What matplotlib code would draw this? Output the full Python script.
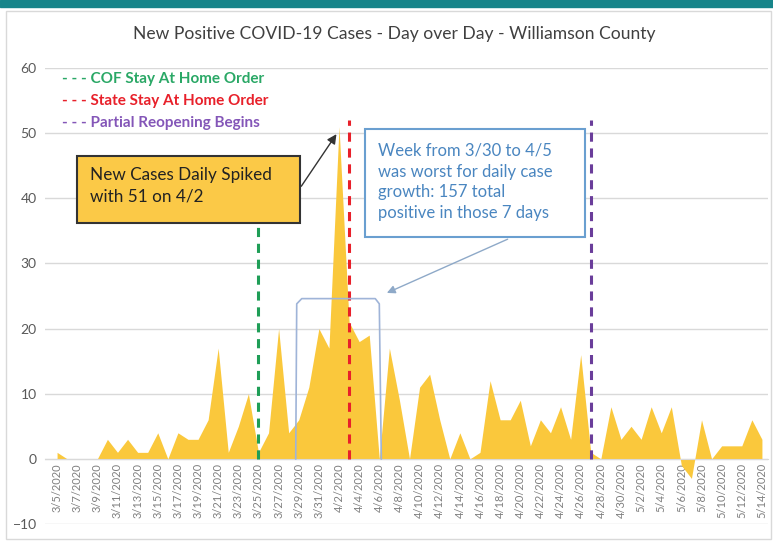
import pandas as pd
import matplotlib.pyplot as plt
from matplotlib.patches import Rectangle

plt.rcParams['font.family'] = ['Lato', 'DejaVu Sans']

# daily new positive cases, 3/5/2020 .. 5/14/2020
dates = pd.date_range("2020-03-05", "2020-05-14")
cases = [1, 0, 0, 0, 0, 3, 1, 3, 1, 1,
         4, 0, 4, 3, 3, 6, 17, 1, 5, 10,
         1, 4, 20, 4, 6, 11, 20, 17, 51, 21,
         18, 19, 0, 17, 9, 0, 11, 13, 6, 0,
         4, 0, 1, 12, 6, 6, 9, 2, 6, 4,
         8, 3, 16, 1, 0, 8, 3, 5, 3, 8,
         4, 8, -1, -3, 6, 0, 2, 2, 2, 6, 3]
labels = [f"{d.month}/{d.day}/{d.year}" for d in dates]

events = ["COF Stay At Home Order", "State Stay At Home Order", "Partial Reopening Begins"]
event_dates = ["2020-03-25", "2020-04-03", "2020-04-27"]
event_colors = ["#1f9e57", "#e8202a", "#6a3d9a"]
event_text_colors = ["#2aa866", "#e8202a", "#8456b8"]
event_tops = [40, 52, 52]

x = list(range(len(dates)))

fig = plt.figure(figsize=(7.73, 5.42), dpi=100)
# teal strip + light frame like the slide
fig.patches.append(Rectangle((0, 0.988), 1, 0.012, transform=fig.transFigure, color="#17858a"))
fig.patches.append(Rectangle((0.008, 0.005), 0.99, 0.975, transform=fig.transFigure,
                             fill=False, ec="#d9d9d9", lw=1))

ax = fig.add_axes([0.0582, 0.0332, 0.9353, 0.8413])
ax.fill_between(x, cases, 0, color="#fac83c", lw=0, zorder=2)

for s in ["top", "right", "left"]:
    ax.spines[s].set_visible(False)
ax.spines["bottom"].set_position(("data", 0))
ax.spines["bottom"].set_color("#d9d9d9")

ax.set_xlim(-1.2, 70.6)
ax.set_ylim(-10, 60)
ax.set_yticks(range(-10, 61, 10))
ax.grid(axis="y", color="#d9d9d9", lw=1)
ax.set_axisbelow(True)
ax.set_xticks(x[::2])
ax.set_xticklabels(labels[::2])
plt.setp(ax.get_xticklabels(), rotation=90, fontsize=8, color="#7f7f7f")
ax.tick_params(axis="x", length=0, pad=3)
ax.tick_params(axis="y", length=0, labelsize=10, colors="#595959", pad=6)

fig.text(0.51, 0.938, "New Positive COVID-19 Cases - Day over Day - Williamson County",
         ha="center", va="center", fontsize=12.6, color="#404040")

# event lines + hand made legend
for i, (name, d, c) in enumerate(zip(events, event_dates, event_colors)):
    xi = dates.get_loc(pd.Timestamp(d))
    ax.plot([xi, xi], [0, event_tops[i]], color=c, lw=2.2, ls=(0, (3, 2.2)), zorder=3)
    ax.text(0.5, 58.3 - i * 3.4, "- - - " + name, color=event_text_colors[i],
            fontsize=11, fontweight="bold", va="center", ha="left")

# yellow callout
ax.add_patch(Rectangle((2.0, 36.2), 22.1, 10.3, fc="#fbc947", ec="#333333", lw=1.5, zorder=5))
ax.text(3.3, 41.9, "New Cases Daily Spiked\nwith 51 on 4/2", fontsize=12.3,
        color="#222222", va="center", ha="left", linespacing=1.4, zorder=6)
ax.annotate("", xy=(27.9, 50.2), xytext=(24.1, 41.5),
            arrowprops=dict(arrowstyle="-|>", color="#333333", lw=1, mutation_scale=14), zorder=6)

# blue callout
ax.add_patch(Rectangle((30.6, 34.1), 21.8, 16.6, fc="white", ec="#6a9fd0", lw=1.5, zorder=5))
ax.text(31.9, 42.5, "Week from 3/30 to 4/5\nwas worst for daily case\ngrowth: 157 total\npositive in those 7 days",
        fontsize=12, color="#4a86c0", va="center", ha="left", linespacing=1.36, zorder=6)
ax.annotate("", xy=(32.5, 25.3), xytext=(45.0, 33.9),
            arrowprops=dict(arrowstyle="-|>", color="#8ea9c8", lw=1, mutation_scale=12), zorder=6)

# bracket around the worst week
bx = [23.7, 23.8, 24.3, 31.6, 32.0, 32.2]
by = [0, 23.8, 24.6, 24.6, 23.8, 0]
ax.plot(bx, by, color="#9fb4d8", lw=1.2, zorder=4)

fig.savefig("out.png", dpi=100)
